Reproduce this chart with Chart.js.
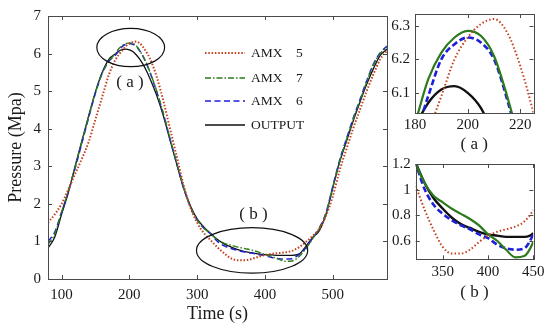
<!DOCTYPE html>
<html><head><meta charset="utf-8">
<script src="https://cdn.jsdelivr.net/npm/chart.js@4.4.1/dist/chart.umd.min.js"></script>
<style>
html,body{margin:0;padding:0;background:#fff;}
#wrap{position:relative;width:550px;height:330px;overflow:hidden;background:#fff;}
canvas{position:absolute;}
</style></head><body>
<div id="wrap">
<canvas id="main" style="left:0;top:0;width:400px;height:330px" width="400" height="330"></canvas>
<canvas id="insA" style="left:370px;top:0;width:180px;height:160px" width="180" height="160"></canvas>
<canvas id="insB" style="left:370px;top:150px;width:180px;height:180px" width="180" height="180"></canvas>
</div>
<script>
// ---- data ----
const time = [80,90,100,110,120,130,140,150,160,170,180,185,190,195,200,205,210,215,220,225,230,240,250,260,270,280,290,300,310,320,330,340,350,360,370,380,390,400,410,420,430,440,450,460,470,480,490,500,510,520,530,540,550,560,570,580];
const amx5 = [1.5,1.72,2.0,2.38,2.8,3.2,3.65,4.25,4.85,5.45,5.85,5.98,6.09,6.2,6.265,6.305,6.32,6.28,6.18,6.04,5.88,5.4,4.75,4.0,3.25,2.5,1.9,1.5,1.22,1.03,0.84,0.68,0.55,0.5,0.5,0.53,0.59,0.64,0.67,0.69,0.71,0.75,0.84,0.98,1.14,1.33,1.68,2.2,2.88,3.45,4.0,4.5,5.0,5.45,5.85,6.08];
const amx7 = [0.92,1.2,1.78,2.35,2.98,3.65,4.32,4.97,5.48,5.8,6.01,6.14,6.22,6.265,6.285,6.27,6.21,6.09,5.94,5.75,5.53,5.02,4.42,3.74,3.08,2.43,1.93,1.58,1.36,1.2,1.05,0.95,0.9,0.85,0.81,0.77,0.72,0.65,0.6,0.53,0.47,0.48,0.59,0.8,1.06,1.34,1.76,2.45,3.13,3.7,4.24,4.74,5.24,5.7,6.0,6.18];
const amx6 = [1.0,1.25,1.78,2.32,2.95,3.62,4.3,4.95,5.48,5.8,5.97,6.09,6.2,6.245,6.265,6.25,6.2,6.08,5.93,5.74,5.52,5.0,4.4,3.72,3.06,2.42,1.92,1.57,1.35,1.2,1.0,0.88,0.81,0.76,0.72,0.69,0.65,0.62,0.57,0.54,0.53,0.54,0.65,0.82,1.08,1.35,1.76,2.46,3.15,3.72,4.27,4.77,5.27,5.72,6.02,6.2];
const output = [0.82,1.12,1.72,2.3,3.0,3.68,4.35,4.98,5.5,5.85,6.0,6.07,6.11,6.12,6.1,6.055,5.97,5.86,5.72,5.55,5.35,4.9,4.35,3.7,3.05,2.42,1.95,1.6,1.38,1.21,1.05,0.93,0.85,0.78,0.73,0.7,0.67,0.65,0.64,0.63,0.63,0.63,0.66,0.86,1.1,1.28,1.72,2.42,3.1,3.65,4.2,4.7,5.18,5.6,5.95,6.12];
const seriesNames = ['AMX    5','AMX    7','AMX    6','OUTPUT'];
const mainXTicks = [100,200,300,400,500];
const mainYTicks = [0,1,2,3,4,5,6,7];
const insAXTicks = [180,200,220];
const insAYTicks = [6.1,6.2,6.3];
const insBXTicks = [350,400,450];
const insBYTicks = [0.6,0.8,1,1.2];

// ---- styling ----
const FONT = "'Liberation Serif', 'Times New Roman', serif";
const TXT = '#1a1a1a';
const COLORS = ['#c2401f','#2d7a1e','#1f1fd8','#111111'];
const series = [amx5, amx7, amx6, output];
const pts = arr => time.map((t,i)=>({x:t, y:arr[i]}));

const mainStyles = [
  {borderDash:[1.5,1.8], borderWidth:2},
  {borderDash:[6,2,1.5,2], borderWidth:1.4},
  {borderDash:[6,3.5], borderWidth:1.5},
  {borderDash:[], borderWidth:1.3}
];
const insetStyles = [
  {borderDash:[1.5,2.2], borderWidth:2},
  {borderDash:[], borderWidth:2.2},
  {borderDash:[6,3], borderWidth:2.6},
  {borderDash:[], borderWidth:2.4}
];
function makeDatasets(styles){
  return series.map((arr,i)=>Object.assign({
    label: seriesNames[i], data: pts(arr), borderColor: COLORS[i],
    pointRadius:0, fill:false, cubicInterpolationMode:'monotone'
  }, styles[i]));
}

const framePlugin = {
  id:'frame',
  afterDatasetsDraw(chart){
    const {ctx, chartArea:a, scales:{x,y}} = chart;
    const L = 4;
    ctx.save();
    ctx.strokeStyle = '#4a4a4a'; ctx.lineWidth = 1; ctx.setLineDash([]);
    ctx.strokeRect(Math.round(a.left)+0.5, Math.round(a.top)+0.5, Math.round(a.right-a.left), Math.round(a.bottom-a.top));
    ctx.beginPath();
    x.ticks.forEach(t=>{const p=Math.round(x.getPixelForValue(t.value))+0.5;
      ctx.moveTo(p,a.bottom); ctx.lineTo(p,a.bottom-L); ctx.moveTo(p,a.top); ctx.lineTo(p,a.top+L);});
    y.ticks.forEach(t=>{const p=Math.round(y.getPixelForValue(t.value))+0.5;
      ctx.moveTo(a.left,p); ctx.lineTo(a.left+L,p); ctx.moveTo(a.right,p); ctx.lineTo(a.right-L,p);});
    ctx.stroke();
    ctx.restore();
  }
};

// annotation ellipses and labels (in data units)
const ellipses = [
  {cx:202, cy:6.16, rx:50, ry:0.51, label:'( a )', lx:201, ly:5.24},
  {cx:381, cy:0.76, rx:82, ry:0.605, label:'( b )', lx:383, ly:1.71}
];
const annotPlugin = {
  id:'annot',
  afterDatasetsDraw(chart){
    const {ctx, scales:{x,y}} = chart;
    ctx.save();
    ctx.strokeStyle = '#111'; ctx.lineWidth = 1.2; ctx.setLineDash([]);
    ellipses.forEach(e=>{
      const cx=x.getPixelForValue(e.cx), cy=y.getPixelForValue(e.cy);
      const rx=Math.abs(x.getPixelForValue(e.cx+e.rx)-cx), ry=Math.abs(y.getPixelForValue(e.cy+e.ry)-cy);
      ctx.beginPath(); ctx.ellipse(cx,cy,rx,ry,0,0,Math.PI*2); ctx.stroke();
      ctx.fillStyle = TXT; ctx.font = '17px '+FONT; ctx.textAlign='center'; ctx.textBaseline='middle';
      ctx.fillText(e.label, x.getPixelForValue(e.lx), y.getPixelForValue(e.ly));
    });
    // legend
    const rows = [53,78,101,125];
    ctx.font = '13.5px '+FONT; ctx.textAlign='left'; ctx.textBaseline='middle';
    chart.data.datasets.forEach((ds,i)=>{
      ctx.strokeStyle = ds.borderColor; ctx.lineWidth = ds.borderWidth;
      ctx.setLineDash(ds.borderDash||[]);
      ctx.beginPath(); ctx.moveTo(205, rows[i]); ctx.lineTo(245, rows[i]); ctx.stroke();
      ctx.fillStyle = TXT; ctx.fillText(ds.label, 251, rows[i]+0.5);
    });
    ctx.restore();
  }
};

function axis(min, max, tickVals, size, pad, titleOpts, isX){
  const o = {
    type:'linear', min, max,
    afterBuildTicks: s => { s.ticks = tickVals.map(v=>({value:v})); },
    afterFit: s => { if (isX) s.height = size; else s.width = size; },
    grid:{display:false, drawTicks:false}, border:{display:false},
    ticks:{padding:pad, color:TXT, font:{family:FONT, size:15}, callback:v=>String(v), autoSkip:false, maxRotation:0},
    title: titleOpts || {display:false}
  };
  return o;
}

new Chart(document.getElementById('main'), {
  type:'line',
  data:{datasets: makeDatasets(mainStyles)},
  options:{
    responsive:false, animation:false, devicePixelRatio:1,
    layout:{padding:{left:0, top:13, right:13, bottom:0}},
    plugins:{legend:{display:false}, tooltip:{enabled:false}},
    scales:{
      x: axis(80, 580, mainXTicks, 51, 7, {display:true, text:'Time (s)', color:TXT, font:{family:FONT, size:18}, padding:{top:0, bottom:5}}, true),
      y: axis(0, 7, mainYTicks, 48, 7, {display:true, text:'Pressure (Mpa)', color:TXT, font:{family:FONT, size:18}, padding:{top:5, bottom:0}}, false)
    }
  },
  plugins:[framePlugin, annotPlugin]
});

new Chart(document.getElementById('insA'), {
  type:'line',
  data:{datasets: makeDatasets(insetStyles)},
  options:{
    responsive:false, animation:false, devicePixelRatio:1,
    layout:{padding:{left:0, top:13, right:16.5, bottom:0}},
    plugins:{legend:{display:false}, tooltip:{enabled:false}},
    scales:{
      x: axis(180, 225, insAXTicks, 47, 3, {display:true, text:'( a )', color:TXT, font:{family:FONT, size:17}, padding:{top:0, bottom:5}}, true),
      y: axis(6.04, 6.335, insAYTicks, 45, 5, null, false)
    }
  },
  plugins:[framePlugin]
});

new Chart(document.getElementById('insB'), {
  type:'line',
  data:{datasets: makeDatasets(insetStyles)},
  options:{
    responsive:false, animation:false, devicePixelRatio:1,
    layout:{padding:{left:0, top:10, right:16.7, bottom:0}},
    plugins:{legend:{display:false}, tooltip:{enabled:false}},
    scales:{
      x: axis(320, 450, insBXTicks, 70.7, 4, {display:true, text:'( b )', color:TXT, font:{family:FONT, size:17}, padding:{top:0, bottom:27.5}}, true),
      y: axis(0.455, 1.2, insBYTicks, 45.7, 5, null, false)
    }
  },
  plugins:[framePlugin]
});
</script>
</body></html>
